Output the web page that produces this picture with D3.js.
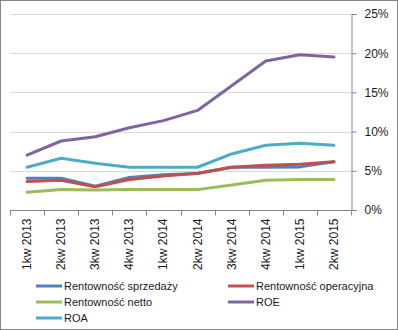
<!DOCTYPE html>
<html>
<head>
<meta charset="utf-8">
<script src="https://cdn.jsdelivr.net/npm/d3@7"></script>
<style>
  body { margin: 0; background: #fff; }
  svg { display: block; font-family: "Liberation Sans", Arial, sans-serif; }
</style>
</head>
<body>
<svg id="chart" width="398" height="330"></svg>
<script>
// quarters on the x axis
const quarters = ["1kw 2013", "2kw 2013", "3kw 2013", "4kw 2013", "1kw 2014",
                  "2kw 2014", "3kw 2014", "4kw 2014", "1kw 2015", "2kw 2015"];

// profitability ratios, in percent
const rentSprzedazy   = [4.05, 4.05, 3.05, 4.15, 4.5, 4.65, 5.45, 5.45, 5.5, 6.15];
const rentOperacyjna  = [3.65, 3.8, 2.95, 3.9, 4.35, 4.7, 5.45, 5.7, 5.85, 6.15];
const rentNetto       = [2.25, 2.6, 2.55, 2.6, 2.6, 2.6, 3.2, 3.8, 3.9, 3.9];
const roe             = [7.0, 8.8, 9.35, 10.5, 11.4, 12.7, 15.85, 19.0, 19.8, 19.5];
const roa             = [5.45, 6.6, 5.95, 5.45, 5.45, 5.45, 7.15, 8.25, 8.5, 8.25];

const yTicks = [0, 5, 10, 15, 20, 25];

const series = [
  { name: "Rentowność sprzedaży",  values: rentSprzedazy,  color: "#4F81BD" },
  { name: "Rentowność operacyjna", values: rentOperacyjna, color: "#C0504D" },
  { name: "Rentowność netto",      values: rentNetto,      color: "#9BBB59" },
  { name: "ROE",                   values: roe,            color: "#8064A2" },
  { name: "ROA",                   values: roa,            color: "#4BACC6" }
];

const svg = d3.select("#chart");

// outer frame
svg.append("rect")
  .attr("x", 0.5).attr("y", 0.5)
  .attr("width", 397).attr("height", 329)
  .attr("fill", "#fff").attr("stroke", "#868686");

const plotLeft = 10, plotRight = 351, plotTop = 14, plotBottom = 210;

const x = d3.scaleBand().domain(quarters).range([plotLeft, plotRight]);
const y = d3.scaleLinear().domain([0, 25]).range([plotBottom, plotTop]);

// horizontal gridlines
svg.append("g")
  .selectAll("line")
  .data(yTicks.filter(d => d > 0))
  .join("line")
  .attr("x1", plotLeft).attr("x2", plotRight)
  .attr("y1", d => Math.round(y(d)) + 0.5)
  .attr("y2", d => Math.round(y(d)) + 0.5)
  .attr("stroke", "#D9D9D9");

// right value axis
const yAxis = svg.append("g")
  .attr("transform", `translate(${plotRight + 0.5},0)`)
  .call(d3.axisRight(y).tickValues(yTicks).tickFormat(d => d + "%").tickSize(5).tickPadding(8));
yAxis.select(".domain").attr("stroke", "#868686");
yAxis.selectAll(".tick line").attr("stroke", "#868686");
yAxis.selectAll("text").attr("font-size", 12).attr("fill", "#1a1a1a")
  .attr("font-family", "Liberation Sans, Arial, sans-serif");

// category axis
const xAxis = svg.append("g")
  .attr("transform", `translate(0,${plotBottom + 0.5})`);
xAxis.append("line")
  .attr("x1", plotLeft).attr("x2", plotRight)
  .attr("stroke", "#868686");
xAxis.selectAll("line.tk")
  .data(d3.range(quarters.length + 1))
  .join("line")
  .attr("class", "tk")
  .attr("x1", i => Math.round(plotLeft + i * x.step()) + 0.5)
  .attr("x2", i => Math.round(plotLeft + i * x.step()) + 0.5)
  .attr("y1", 0).attr("y2", 5)
  .attr("stroke", "#868686");
xAxis.selectAll("text")
  .data(quarters)
  .join("text")
  .attr("transform", d => `translate(${x(d) + x.bandwidth() / 2 + 4},8) rotate(-90)`)
  .attr("text-anchor", "end")
  .attr("font-size", 12)
  .attr("fill", "#1a1a1a")
  .text(d => d);

// lines
const line = d3.line()
  .x((d, i) => x(quarters[i]) + x.bandwidth() / 2)
  .y(d => y(d));

svg.append("g")
  .selectAll("path")
  .data(series)
  .join("path")
  .attr("d", d => line(d.values))
  .attr("fill", "none")
  .attr("stroke", d => d.color)
  .attr("stroke-width", 3)
  .attr("stroke-linejoin", "round")
  .attr("stroke-linecap", "round");

// legend
const legend = svg.append("g");
const items = legend.selectAll("g")
  .data(series)
  .join("g")
  .attr("transform", (d, i) => `translate(${i % 2 ? 228 : 36},${286 + Math.floor(i / 2) * 16})`);
items.append("line")
  .attr("x1", 0).attr("x2", 26)
  .attr("stroke", d => d.color)
  .attr("stroke-width", 3);
items.append("text")
  .attr("x", 28).attr("y", 4)
  .attr("font-size", 11)
  .attr("fill", "#1a1a1a")
  .text(d => d.name);
</script>
</body>
</html>
